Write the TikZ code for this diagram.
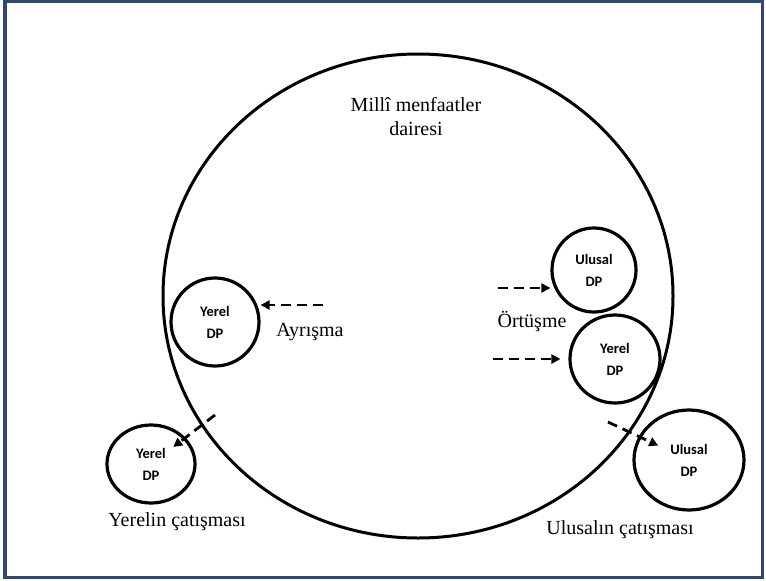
\documentclass[tikz,border=0pt]{standalone}
\usepackage{fontspec}
\setmainfont{Liberation Serif}
\newfontfamily\dpfont{Carlito}
\usetikzlibrary{arrows.meta,shapes.geometric}
\definecolor{framenavy}{RGB}{47,72,110}

\begin{document}
\begin{tikzpicture}[x=1pt,y=-1pt,
    dp/.style={ellipse, draw=black, line width=3.2pt, inner sep=0pt, align=center,
        font=\dpfont\bfseries\fontsize{14.5}{22}\selectfont},
    arrow/.style={-{Triangle[length=9pt,width=9pt]}, line width=2.8pt, dash pattern=on 10pt off 6pt},
    txt/.style={font=\fontsize{20}{24}\selectfont, align=center}
]
    \useasboundingbox (0,0) rectangle (766,581);
    % Frame
    \draw[framenavy, line width=3.5pt] (5,1.5) rectangle (762.5,577.5);

    % Big circle
    \node[ellipse, draw=black, line width=3pt, minimum width=510pt, minimum height=484pt] (daire) at (418,296) {};
    \node[txt] (mm) at (416,117) {Millî menfaatler\\dairesi};

    % DP circles
    \node[dp, minimum width=88pt, minimum height=88pt] (yl) at (215,322) {Yerel\\DP};
    \node[dp, minimum width=84pt, minimum height=84pt] (ul1) at (594,270) {Ulusal\\DP};
    \node[dp, minimum width=90pt, minimum height=88pt] (yr) at (615,359) {Yerel\\DP};
    \node[dp, minimum width=110pt, minimum height=100pt] (uo) at (689,460) {Ulusal\\DP};
    \node[dp, minimum width=88pt, minimum height=78pt] (yo) at (151,464) {Yerel\\DP};

    % Labels
    \node[txt] (ayr) at (310,332) {Ayrışma};
    \node[txt] (ort) at (532,322) {Örtüşme};
    \node[txt] (ycat) at (177,522) {Yerelin çatışması};
    \node[txt] (ucat) at (620,530) {Ulusalın çatışması};

    % Arrows
    \coordinate (ayrA) at (323,305);
    \coordinate (ortA) at (498,288);
    \coordinate (ortB) at (493,359);
    \coordinate (catL) at (215,415);
    \coordinate (catR) at (608,422);
    \draw[arrow] (ayrA) -- (ayrA -| yl.east);
    \draw[arrow] (ortA) -- (ortA -| ul1.west);
    \draw[arrow, shorten >=8pt] (ortB) -- (ortB -| yr.west);
    \draw[arrow, shorten >=28pt] (catL) -- (yo.center);
    \draw[arrow, shorten >=34pt] (catR) -- (uo.center);
\end{tikzpicture}
\end{document}
